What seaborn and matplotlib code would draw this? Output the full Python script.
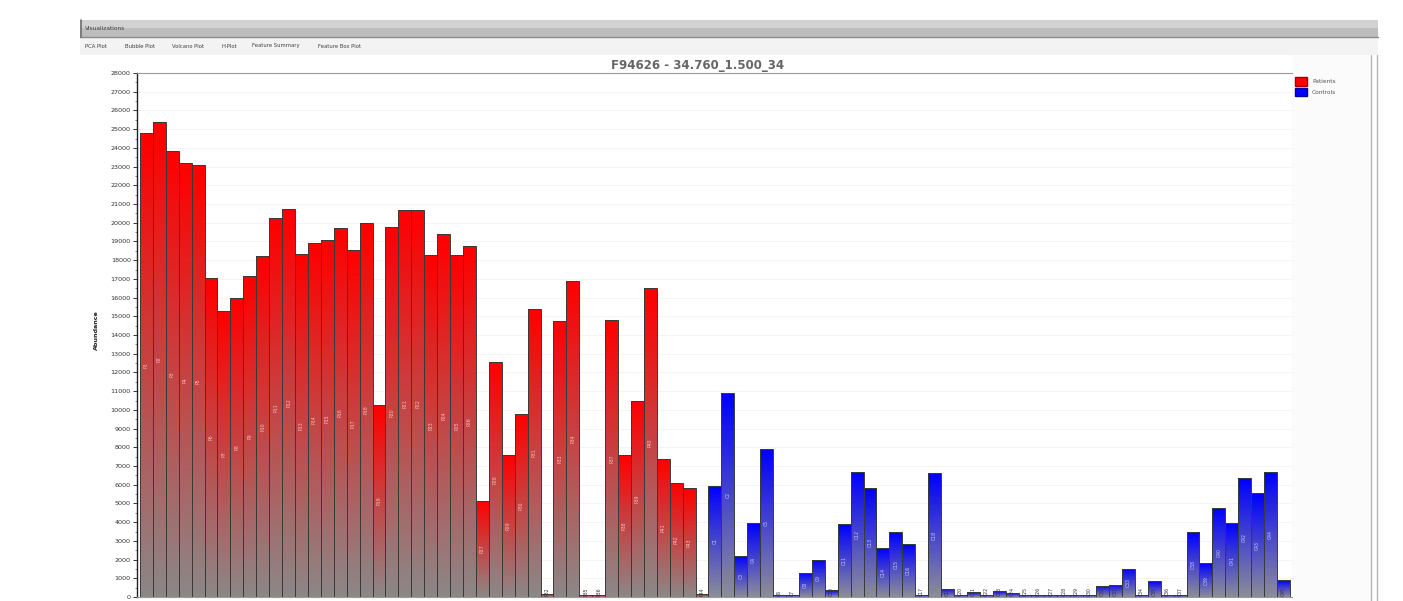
import numpy as np
import pandas as pd
import matplotlib
matplotlib.use("Agg")
import matplotlib.pyplot as plt
import seaborn as sns
from matplotlib.patches import Rectangle, Patch
from matplotlib.lines import Line2D
from matplotlib.ticker import MultipleLocator

# ---------------- data ----------------
patient_values = [24800, 25400, 23850, 23200, 23100, 17050, 15300, 16000, 17150, 18200,
                  20250, 20750, 18350, 18900, 19100, 19700, 18550, 20000, 10250, 19750,
                  20700, 20700, 18300, 19400, 18300, 18750, 5150, 12550, 7600, 9800,
                  15400, 150, 14750, 16900, 100, 100, 14800, 7600, 10500, 16500,
                  7400, 6100, 5800, 150]
control_values = [5950, 10900, 2200, 3950, 7900, 100, 100, 1300, 2000, 350,
                  3900, 6700, 5850, 2600, 3450, 2850, 100, 6600, 450, 100,
                  250, 100, 300, 200, 100, 100, 100, 100, 100, 100,
                  600, 650, 1500, 100, 850, 100, 100, 3450, 1800, 4750,
                  3950, 6350, 5550, 6700, 900]
patient_names = ["P%d" % (i + 1) for i in range(len(patient_values))]
control_names = ["C%d" % (i + 1) for i in range(len(control_values))]
group_labels = ["Patients", "Controls"]
title_text = "F94626 - 34.760_1.500_34"
y_label = "Abundance"
y_ticks = list(range(0, 28001, 1000))
tab_labels = ["PCA Plot", "Bubble Plot", "Volcano Plot", "H-Plot", "Feature Summary", "Feature Box Plot"]

names = patient_names + control_names
values = patient_values + control_values
groups = [group_labels[0]] * len(patient_values) + [group_labels[1]] * len(control_values)
df = pd.DataFrame({"sample": names, "abundance": values, "group": groups})

# ---------------- figure ----------------
sns.set_style("white")
plt.rcParams["font.family"] = ["DejaVu Sans"]
W, H = 1403, 601
fig = plt.figure(figsize=(W / 100, H / 100), dpi=100)
fig.patch.set_facecolor("white")

def fx(px):
    return px / W

def fy(py):
    return 1 - py / H

# window chrome
fig.patches.append(Rectangle((fx(80), fy(37)), fx(1378 - 80), 17 / H, transform=fig.transFigure,
                             facecolor="#bdbdbd", edgecolor="none", zorder=0))
fig.patches.append(Rectangle((fx(80), fy(28)), fx(1378 - 80), 8 / H, transform=fig.transFigure,
                             facecolor="#d2d2d2", edgecolor="none", zorder=0))
fig.lines.append(Line2D([fx(80), fx(1378)], [fy(37), fy(37)], transform=fig.transFigure,
                        color="#8c8c8c", lw=1.0))
fig.lines.append(Line2D([fx(81), fx(81)], [fy(20), fy(37)], transform=fig.transFigure,
                        color="#707070", lw=1.2))
fig.text(fx(85), fy(29), "Visualizations", fontsize=4.2, color="#404040", va="center", ha="left")
fig.patches.append(Rectangle((fx(80), fy(55)), fx(1378 - 80), 18 / H, transform=fig.transFigure,
                             facecolor="#f3f3f3", edgecolor="none", zorder=0))
tab_x = [85, 125, 172, 222, 252, 318]
for t, x in zip(tab_labels, tab_x):
    fig.text(fx(x), fy(46), t, fontsize=3.8, color="#404040", va="center", ha="left")
# right side panel / scrollbar frame
fig.patches.append(Rectangle((fx(1293), 0), fx(1371 - 1293), fy(55), transform=fig.transFigure,
                             facecolor="#fbfbfb", edgecolor="none", zorder=0))
for xx in (1371, 1377):
    fig.lines.append(Line2D([fx(xx), fx(xx)], [0, fy(55)], transform=fig.transFigure,
                            color="#b4b4b4", lw=1.0))

# axes
ax = fig.add_axes([fx(137), 4 / H, fx(1293 - 137), (597 - 73) / H])
ax.set_facecolor("white")
palette = {"Patients": "#ff0000", "Controls": "#0000ff"}
sns.barplot(data=df, x="sample", y="abundance", hue="group", hue_order=group_labels,
            order=names, palette=palette, dodge=False, width=1.0, saturation=1,
            errorbar=None, legend=False, edgecolor="#3a3a3a", linewidth=0.7, ax=ax)

# gradient fill for each bar (colour at top -> grey at bottom)
n = 64
t = np.linspace(0, 1, n)[:, None]
for p in list(ax.patches):
    h = p.get_height()
    if h <= 0:
        continue
    top = np.array(p.get_facecolor()[:3])
    if top[0] > top[2]:
        bottom = np.array([0.55, 0.53, 0.53])
    else:
        bottom = np.array([0.55, 0.55, 0.60])
    grad = (bottom * (1 - t) + top * t).reshape(n, 1, 3)
    x0, w = p.get_x(), p.get_width()
    im = ax.imshow(grad, extent=[x0, x0 + w, 0, h], origin="lower", aspect="auto",
                   interpolation="bilinear", zorder=1)
    im.set_clip_path(p)
    p.set_facecolor("none")
    p.set_zorder(2)

# in-bar sample labels
for i, (nm, v, g) in enumerate(zip(names, values, groups)):
    if v > 1200:
        col = "#f2c4c4" if g == "Patients" else "#c8c8f2"
        ax.text(i, v / 2, nm, rotation=90, fontsize=3.3, ha="center", va="center",
                color=col, zorder=3)
    else:
        ax.text(i, 60, nm, rotation=90, fontsize=3.3, ha="center", va="bottom",
                color="#30304a", zorder=3)

ax.set_xlim(-0.73, 88.74)
ax.set_ylim(0, 28000)
ax.set_yticks(y_ticks)
ax.set_yticklabels([str(v) for v in y_ticks], fontsize=4.6, color="#333333")
ax.yaxis.set_minor_locator(MultipleLocator(500))
ax.tick_params(axis="y", which="major", left=True, length=3, width=0.7, color="#333333", pad=1.5)
ax.tick_params(axis="y", which="minor", left=True, length=1.5, width=0.5, color="#555555")
ax.set_xticks([])
ax.set_xlabel("")
ax.set_ylabel("")
ax.yaxis.grid(True, color="#f2f2f2", lw=0.6)
ax.set_axisbelow(True)
for s in ("top", "right", "bottom"):
    ax.spines[s].set_color("#9a9a9a")
    ax.spines[s].set_linewidth(0.8)
ax.spines["left"].set_color("#222222")
ax.spines["left"].set_linewidth(1.0)

fig.text(fx(698), fy(65), title_text, fontsize=8.5, color="#666666", ha="center", va="center",
         fontweight="bold")
fig.text(fx(96), fy(330), y_label, fontsize=4.6, color="#222222", rotation=90,
         ha="center", va="center", fontweight="bold")

handles = [Patch(facecolor="#ff0000", edgecolor="#a00000"), Patch(facecolor="#0000ff", edgecolor="#0000a0")]
fig.legend(handles=handles, labels=group_labels, loc="upper left",
           bbox_to_anchor=(fx(1294), fy(76)), frameon=False, fontsize=4.2,
           handlelength=2.1, handleheight=1.9, handletextpad=0.8, labelspacing=0.3,
           labelcolor="#555555", borderaxespad=0, borderpad=0.2)

fig.savefig("out.png", dpi=100, facecolor="white")
